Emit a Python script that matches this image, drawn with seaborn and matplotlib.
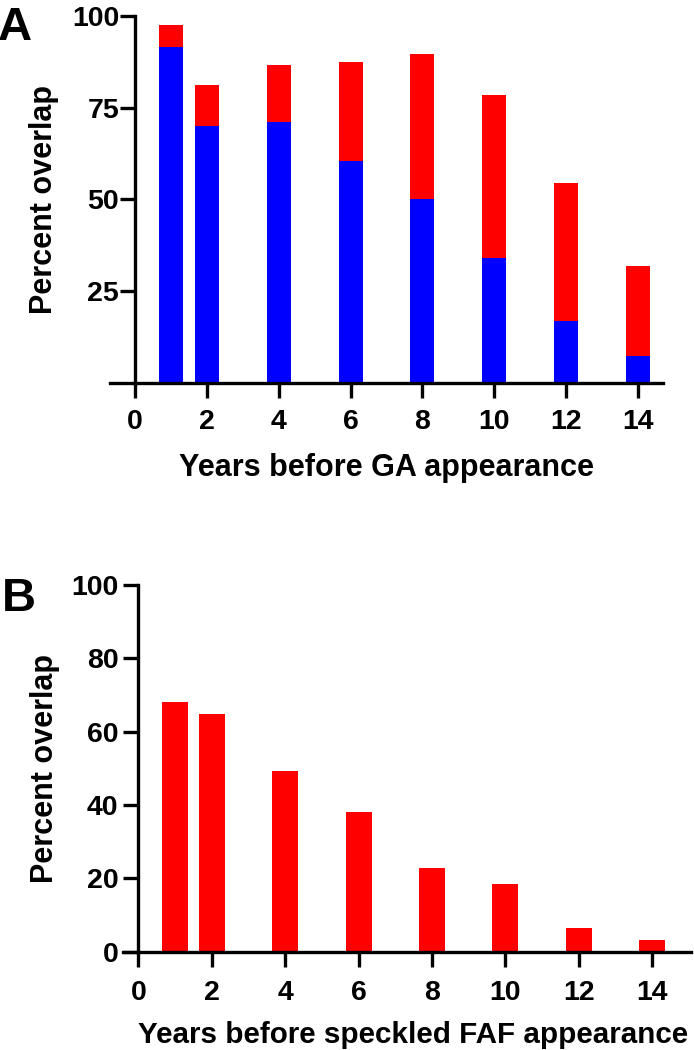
import numpy as np
import pandas as pd
import seaborn as sns
import matplotlib
matplotlib.use("Agg")
import matplotlib.pyplot as plt

# data
years = [1, 2, 4, 6, 8, 10, 12, 14]
ga_total = [97.5, 81, 86.5, 87.5, 89.5, 78.5, 54.5, 32]
ga_blue = [91.5, 70, 71, 60.5, 50, 34, 17, 7.5]
faf_red = [68.2, 64.7, 49.3, 38, 22.8, 18.5, 6.5, 3.3]
xticks = [0, 2, 4, 6, 8, 10, 12, 14]

sns.set_style("ticks")
plt.rcParams['font.family'] = ['Liberation Sans', 'DejaVu Sans']
plt.rcParams['font.weight'] = 'bold'
for k in ['text.color', 'axes.labelcolor', 'xtick.color', 'ytick.color']:
    plt.rcParams[k] = 'black'

fig = plt.figure(figsize=(6.94, 10.5), dpi=100)

def style_axes(ax, yticks, xlim, ypad, xpad):
    ax.set_ylim(0, 100)
    ax.set_xlim(*xlim)
    ax.spines['top'].set_visible(False)
    ax.spines['right'].set_visible(False)
    ax.spines['left'].set_position(('data', 0))
    for s in ['left', 'bottom']:
        ax.spines[s].set_linewidth(2.4)
        ax.spines[s].set_color('black')
    ax.set_xticks(xticks)
    ax.set_xticklabels([str(t) for t in xticks])
    ax.set_yticks(yticks)
    ax.set_yticklabels([str(t) for t in yticks])
    ax.tick_params(axis='both', length=10.8, width=2.4, color='black',
                   labelcolor='black', labelsize=20.5)
    ax.tick_params(axis='x', pad=xpad)
    ax.tick_params(axis='y', pad=ypad)
    for lab in ax.get_xticklabels() + ax.get_yticklabels():
        lab.set_fontweight('bold')

# panel A - stacked bars
axA = fig.add_axes([0.1585, 0.635, 0.7968, 0.3501])
sns.barplot(x=years, y=ga_total, native_scale=True, color='#ff0000', saturation=1,
            width=0.67, errorbar=None, linewidth=0, ax=axA)
sns.barplot(x=years, y=ga_blue, native_scale=True, color='#0000ff', saturation=1,
            width=0.67, errorbar=None, linewidth=0, ax=axA)
style_axes(axA, [25, 50, 75, 100], (-0.70, 14.7), 0.8, 8.0)
axA.set_xlabel('Years before GA appearance', fontsize=22, fontweight='bold')
axA.set_ylabel('Percent overlap', fontsize=22, fontweight='bold')
axA.xaxis.set_label_coords(0.5, -0.19)
axA.yaxis.set_label_coords(-0.092, 0.5)

# panel B
axB = fig.add_axes([0.1777, 0.0936, 0.8176, 0.3492])
sns.barplot(x=years, y=faf_red, native_scale=True, color='#ff0000', saturation=1,
            width=0.71, errorbar=None, linewidth=0, ax=axB)
style_axes(axB, [0, 20, 40, 60, 80, 100], (-0.41, 15.05), 3.6, 9.5)
axB.set_xlabel('Years before speckled FAF appearance', fontsize=21.3, fontweight='bold')
axB.set_ylabel('Percent overlap', fontsize=22, fontweight='bold')
axB.xaxis.set_label_coords(0.51, -0.19)
axB.yaxis.set_label_coords(-0.111, 0.5)

fig.text(-0.003, 0.994, 'A', fontsize=34, fontweight='bold', ha='left', va='top')
fig.text(0.002, 0.4505, 'B', fontsize=34, fontweight='bold', ha='left', va='top')

fig.savefig('out.png', dpi=100)
